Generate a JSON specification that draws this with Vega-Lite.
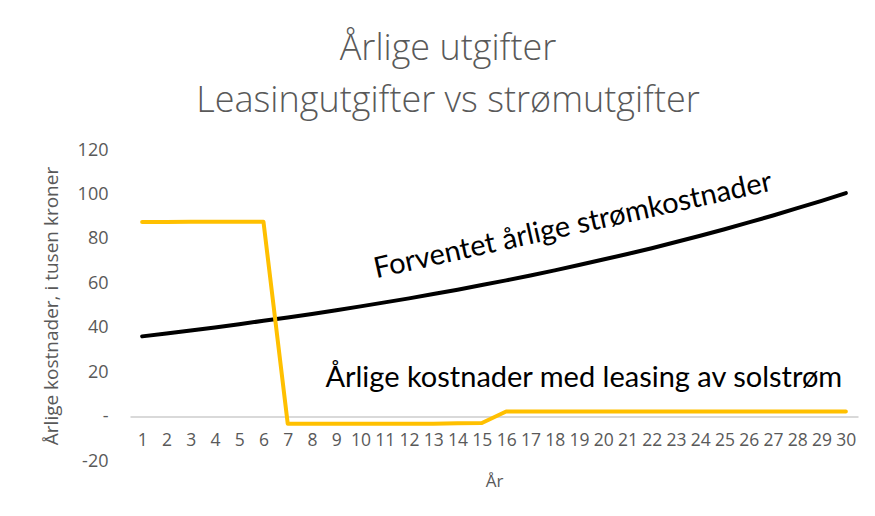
{
  "$schema": "https://vega.github.io/schema/vega-lite/v6.json",
  "width": 728,
  "height": 311,
  "autosize": {"type": "none"},
  "padding": {"left": 130, "top": 150, "right": 17, "bottom": 55},
  "background": "white",
  "config": {"view": {"stroke": null}, "font": "Open Sans"},
  "title": {
    "text": ["Årlige utgifter", "Leasingutgifter vs strømutgifter"],
    "anchor": "middle",
    "frame": "group",
    "dx": -46,
    "font": "Open Sans",
    "fontWeight": 300,
    "fontSize": 36,
    "color": "#595959",
    "lineHeight": 52,
    "offset": 21
  },
  "datasets": {
    "lines": [
      {"year": 1, "series": "strom", "value": 36.1},
      {"year": 2, "series": "strom", "value": 37.4},
      {"year": 3, "series": "strom", "value": 38.7},
      {"year": 4, "series": "strom", "value": 40.1},
      {"year": 5, "series": "strom", "value": 41.6},
      {"year": 6, "series": "strom", "value": 43.1},
      {"year": 7, "series": "strom", "value": 44.6},
      {"year": 8, "series": "strom", "value": 46.2},
      {"year": 9, "series": "strom", "value": 47.9},
      {"year": 10, "series": "strom", "value": 49.6},
      {"year": 11, "series": "strom", "value": 51.4},
      {"year": 12, "series": "strom", "value": 53.2},
      {"year": 13, "series": "strom", "value": 55.2},
      {"year": 14, "series": "strom", "value": 57.1},
      {"year": 15, "series": "strom", "value": 59.2},
      {"year": 16, "series": "strom", "value": 61.3},
      {"year": 17, "series": "strom", "value": 63.5},
      {"year": 18, "series": "strom", "value": 65.8},
      {"year": 19, "series": "strom", "value": 68.2},
      {"year": 20, "series": "strom", "value": 70.7},
      {"year": 21, "series": "strom", "value": 73.2},
      {"year": 22, "series": "strom", "value": 75.8},
      {"year": 23, "series": "strom", "value": 78.6},
      {"year": 24, "series": "strom", "value": 81.4},
      {"year": 25, "series": "strom", "value": 84.3},
      {"year": 26, "series": "strom", "value": 87.4},
      {"year": 27, "series": "strom", "value": 90.5},
      {"year": 28, "series": "strom", "value": 93.8},
      {"year": 29, "series": "strom", "value": 97.1},
      {"year": 30, "series": "strom", "value": 100.6},
      {"year": 1, "series": "leasing", "value": 87.6},
      {"year": 2, "series": "leasing", "value": 87.6},
      {"year": 3, "series": "leasing", "value": 87.7},
      {"year": 4, "series": "leasing", "value": 87.7},
      {"year": 5, "series": "leasing", "value": 87.7},
      {"year": 6, "series": "leasing", "value": 87.7},
      {"year": 7, "series": "leasing", "value": -3.2},
      {"year": 8, "series": "leasing", "value": -3.2},
      {"year": 9, "series": "leasing", "value": -3.2},
      {"year": 10, "series": "leasing", "value": -3.2},
      {"year": 11, "series": "leasing", "value": -3.2},
      {"year": 12, "series": "leasing", "value": -3.2},
      {"year": 13, "series": "leasing", "value": -3.2},
      {"year": 14, "series": "leasing", "value": -3.0},
      {"year": 15, "series": "leasing", "value": -2.9},
      {"year": 16, "series": "leasing", "value": 2.3},
      {"year": 17, "series": "leasing", "value": 2.3},
      {"year": 18, "series": "leasing", "value": 2.3},
      {"year": 19, "series": "leasing", "value": 2.3},
      {"year": 20, "series": "leasing", "value": 2.3},
      {"year": 21, "series": "leasing", "value": 2.3},
      {"year": 22, "series": "leasing", "value": 2.3},
      {"year": 23, "series": "leasing", "value": 2.3},
      {"year": 24, "series": "leasing", "value": 2.3},
      {"year": 25, "series": "leasing", "value": 2.3},
      {"year": 26, "series": "leasing", "value": 2.3},
      {"year": 27, "series": "leasing", "value": 2.3},
      {"year": 28, "series": "leasing", "value": 2.3},
      {"year": 29, "series": "leasing", "value": 2.3},
      {"year": 30, "series": "leasing", "value": 2.3}
    ],
    "labels": [
      {"year": 18.75, "value": 86.0, "label": "Forventet årlige strømkostnader", "angle": -12.5},
      {"year": 19.2, "value": 17.2, "label": "Årlige kostnader med leasing av solstrøm", "angle": 0}
    ]
  },
  "layer": [
    {
      "data": {"name": "lines"},
      "mark": {"type": "line", "strokeWidth": 4, "strokeCap": "round", "strokeJoin": "round"},
      "encoding": {
        "x": {
          "field": "year",
          "type": "ordinal",
          "sort": "ascending",
          "scale": {"type": "point", "padding": 0.5},
          "axis": {
            "title": "År",
            "titleFont": "Open Sans",
            "titleFontSize": 17,
            "titleFontWeight": "normal",
            "titleColor": "#595959",
            "titlePadding": 24,
            "labelAngle": 0,
            "labelFont": "Open Sans",
            "labelFontSize": 17.5,
            "labelColor": "#595959",
            "labelPadding": 15,
            "ticks": false,
            "domainColor": "#d9d9d9",
            "domainWidth": 2,
            "offset": -44.4,
            "grid": false
          }
        },
        "y": {
          "field": "value",
          "type": "quantitative",
          "scale": {"domain": [-20, 120], "nice": false},
          "axis": {
            "title": "Årlige kostnader, i tusen kroner",
            "titleFont": "Open Sans",
            "titleFontSize": 19,
            "titleFontWeight": "normal",
            "titleColor": "#595959",
            "titleX": -79,
            "titleY": 155.5,
            "titleBaseline": "middle",
            "titleAlign": "center",
            "values": [-20, 0, 20, 40, 60, 80, 100, 120],
            "labelExpr": "datum.value == 0 ? '-' : '' + datum.value",
            "labelFont": "Open Sans",
            "labelFontSize": 18,
            "labelColor": "#595959",
            "labelPadding": 22,
            "ticks": false,
            "domain": false,
            "grid": false
          }
        },
        "color": {
          "field": "series",
          "type": "nominal",
          "scale": {"domain": ["leasing", "strom"], "range": ["#FFC000", "#000000"]},
          "legend": null
        }
      }
    },
    {
      "data": {"name": "labels"},
      "mark": {"type": "text", "font": "Lato", "fontSize": 29, "color": "#000000", "align": "center", "baseline": "middle"},
      "encoding": {
        "x": {"field": "year", "type": "quantitative", "scale": {"domain": [0.5, 30.5], "nice": false, "zero": false}, "axis": null},
        "y": {"field": "value", "type": "quantitative"},
        "text": {"field": "label"},
        "angle": {"field": "angle", "type": "quantitative", "scale": null}
      }
    }
  ],
  "resolve": {"scale": {"x": "independent"}}
}
